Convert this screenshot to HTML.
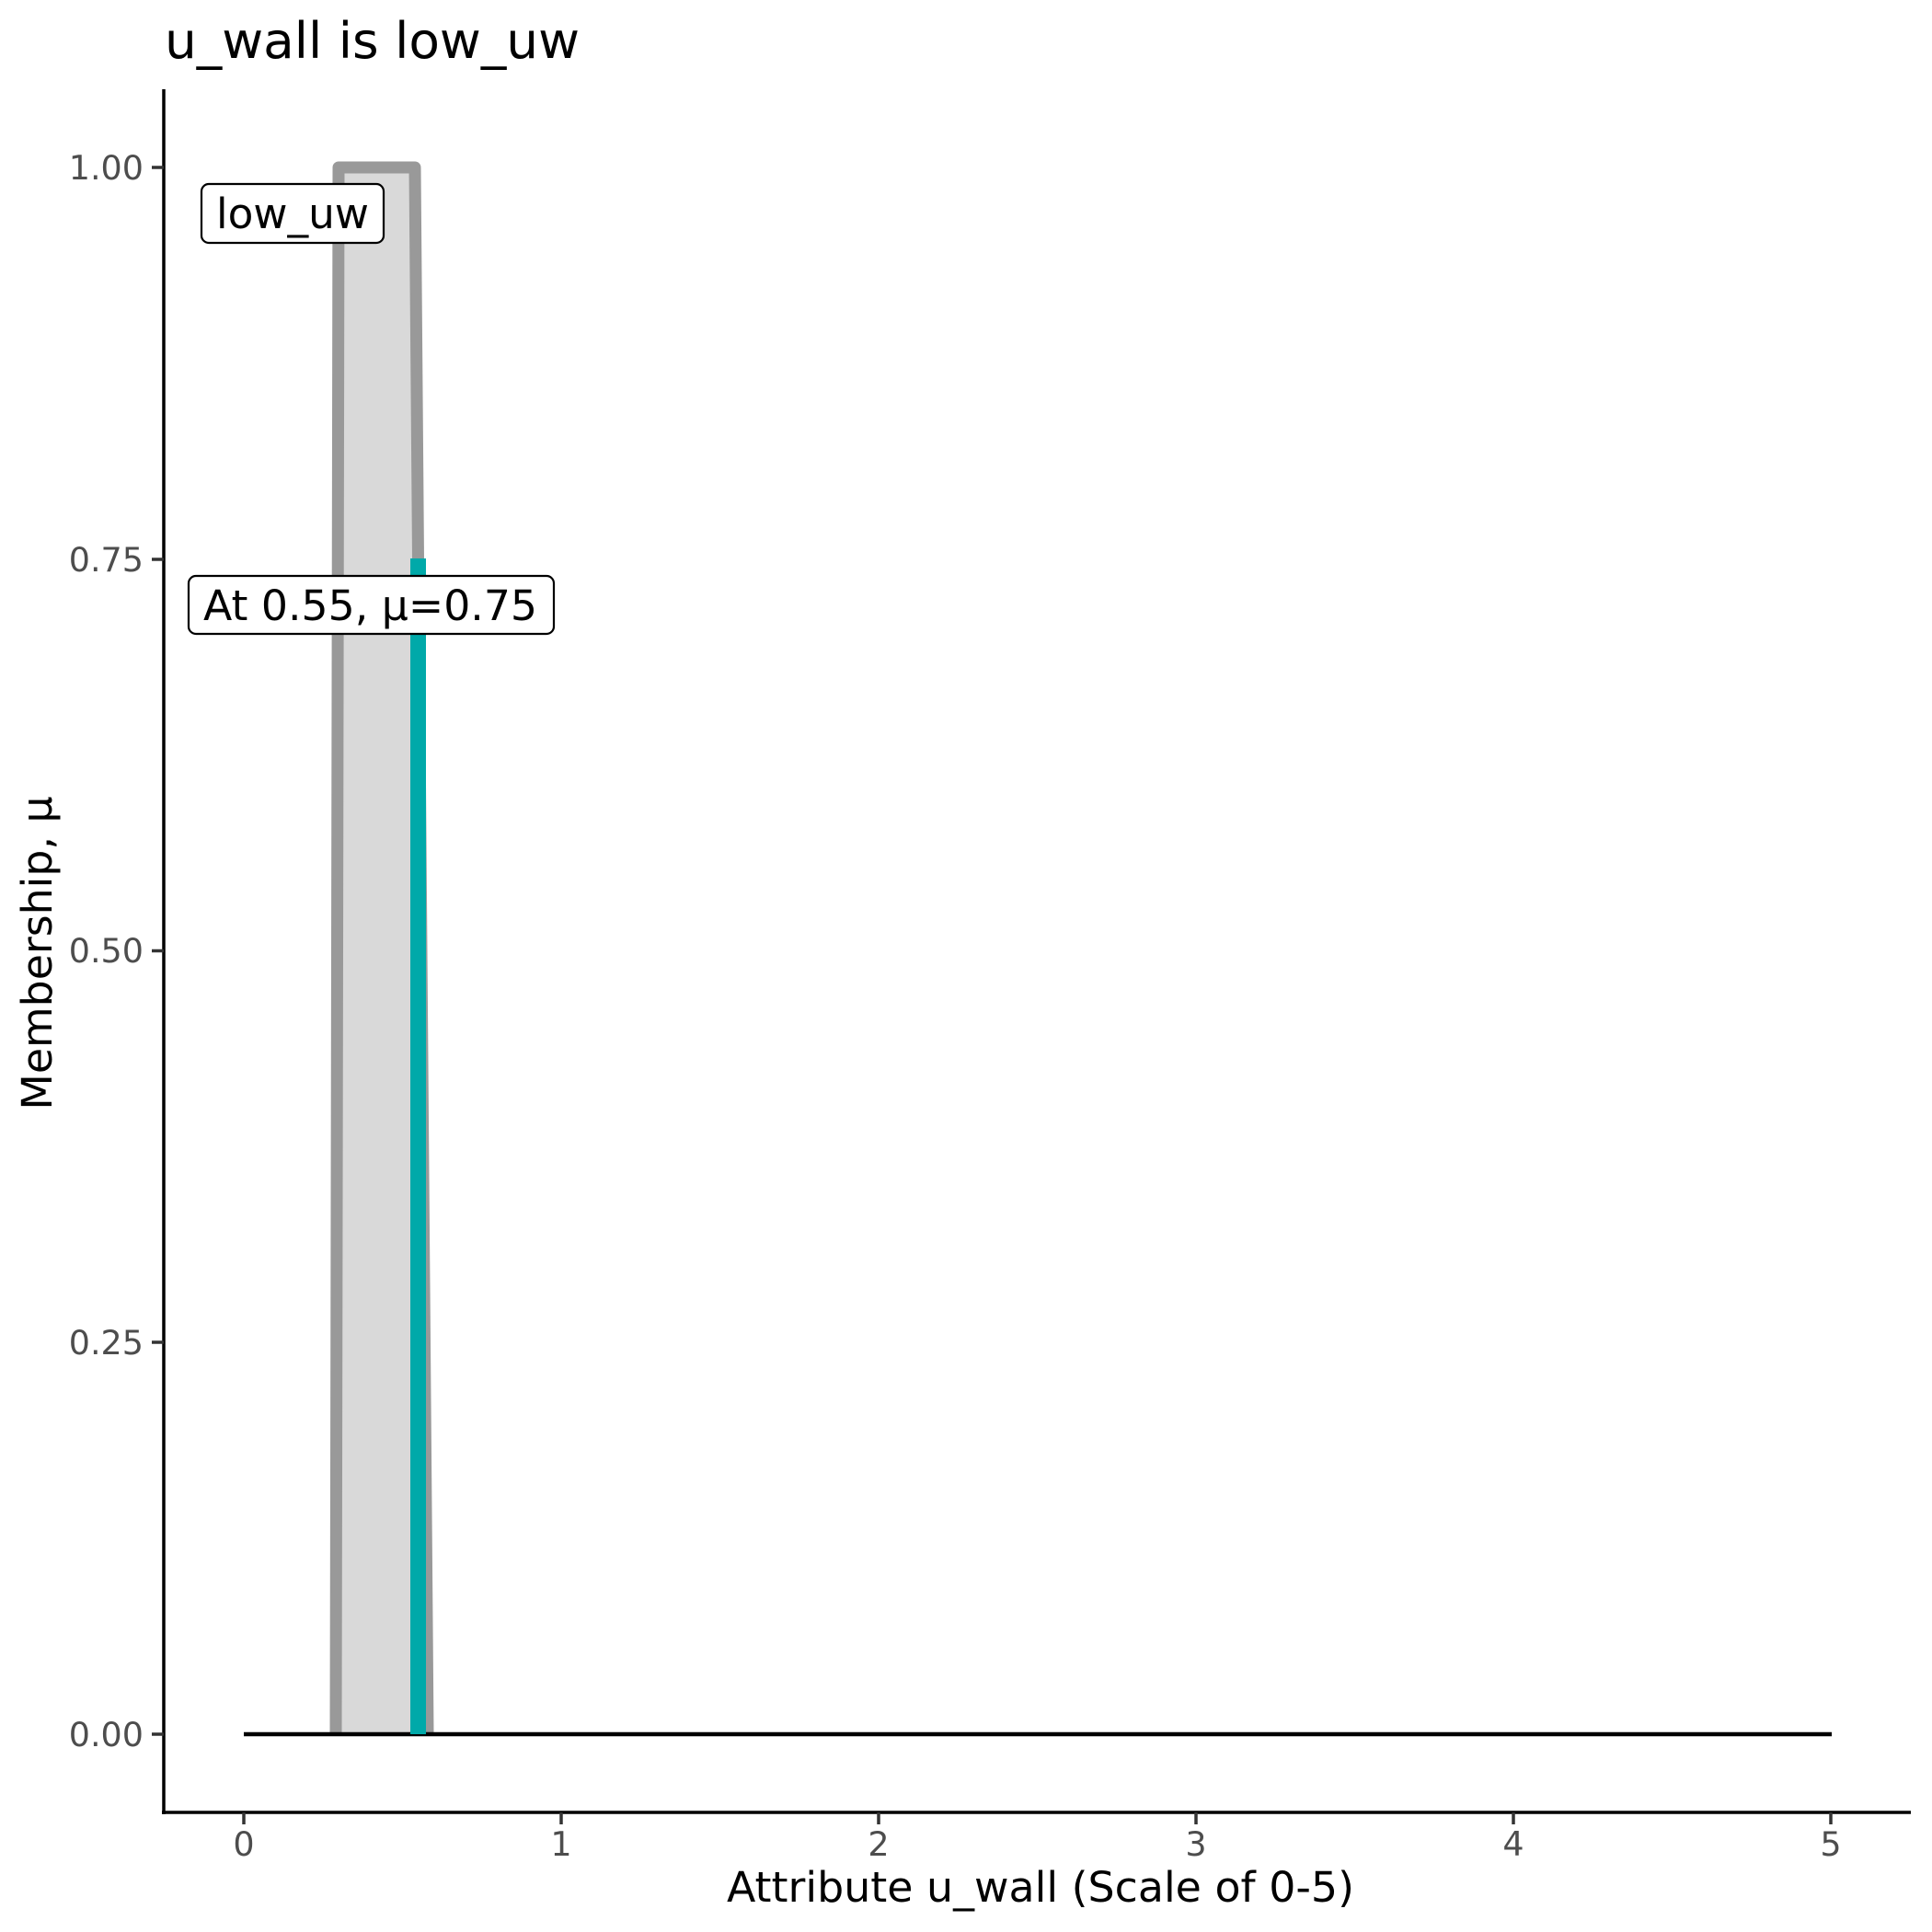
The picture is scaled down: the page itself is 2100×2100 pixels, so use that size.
<!DOCTYPE html>
<html><head><meta charset="utf-8"><style>html,body{margin:0;padding:0;background:#fff}svg{display:block}text{font-family:"DejaVu Sans","Liberation Sans",sans-serif}</style></head>
<body>
<svg width="2100" height="2100" viewBox="0 0 2100 2100" xmlns="http://www.w3.org/2000/svg">
<rect width="2100" height="2100" fill="#fff"/>
<text x="179" y="63" font-size="54.6" fill="#000" textLength="451" lengthAdjust="spacingAndGlyphs">u_wall is low_uw</text>
<!-- polygon -->
<polygon points="365,1885 368,182 451,182 465,1885" fill="#D9D9D9"/>
<polyline points="365,1885 368,182 451,182 465,1885" fill="none" stroke="#999999" stroke-width="13" stroke-linejoin="round"/>
<!-- zero line -->
<line x1="265" y1="1885" x2="1991" y2="1885" stroke="#000" stroke-width="4.5"/>
<!-- teal -->
<line x1="454.5" y1="607" x2="454.5" y2="1885" stroke="#00A9A9" stroke-width="17"/>
<!-- axes -->
<line x1="178" y1="97" x2="178" y2="1972" stroke="#000" stroke-width="3.5"/>
<line x1="176" y1="1970" x2="2077" y2="1970" stroke="#000" stroke-width="3.5"/>
<g stroke="#333" stroke-width="3.5">
<line x1="165" y1="182" x2="178" y2="182"/>
<line x1="165" y1="608" x2="178" y2="608"/>
<line x1="165" y1="1033.5" x2="178" y2="1033.5"/>
<line x1="165" y1="1459" x2="178" y2="1459"/>
<line x1="165" y1="1885" x2="178" y2="1885"/>
<line x1="265" y1="1970" x2="265" y2="1983"/>
<line x1="610" y1="1970" x2="610" y2="1983"/>
<line x1="955" y1="1970" x2="955" y2="1983"/>
<line x1="1300" y1="1970" x2="1300" y2="1983"/>
<line x1="1645" y1="1970" x2="1645" y2="1983"/>
<line x1="1990" y1="1970" x2="1990" y2="1983"/>
</g>
<g font-size="36.5" fill="#4D4D4D" text-anchor="end">
<text x="156" y="195">1.00</text>
<text x="156" y="621">0.75</text>
<text x="156" y="1046">0.50</text>
<text x="156" y="1472">0.25</text>
<text x="156" y="1898">0.00</text>
</g>
<g font-size="36.5" fill="#4D4D4D" text-anchor="middle">
<text x="265" y="2017">0</text>
<text x="610" y="2017">1</text>
<text x="955" y="2017">2</text>
<text x="1300" y="2017">3</text>
<text x="1645" y="2017">4</text>
<text x="1990" y="2017">5</text>
</g>
<text x="1131" y="2067" font-size="45.8" fill="#000" text-anchor="middle" textLength="682" lengthAdjust="spacingAndGlyphs">Attribute u_wall (Scale of 0-5)</text>
<text transform="translate(56,1036) rotate(-90)" font-size="45.8" fill="#000" text-anchor="middle">Membership, μ</text>
<!-- labels -->
<rect x="219" y="200" width="198" height="64" rx="8" fill="#fff" stroke="#000" stroke-width="2.2"/>
<text x="318" y="248" font-size="45.5" fill="#000" text-anchor="middle" textLength="166" lengthAdjust="spacingAndGlyphs">low_uw</text>
<rect x="205" y="626" width="397" height="63" rx="8" fill="#fff" stroke="#000" stroke-width="2.2"/>
<text x="221" y="674" font-size="45.5" fill="#000" textLength="363" lengthAdjust="spacingAndGlyphs">At 0.55, μ=0.75</text>
</svg>
</body></html>
